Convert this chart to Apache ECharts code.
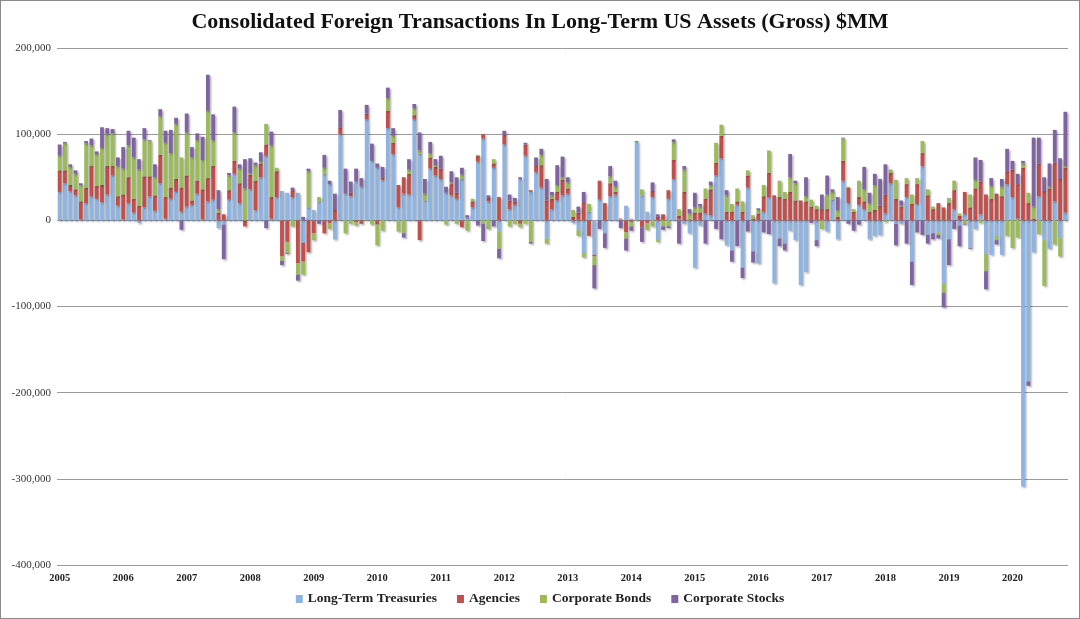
<!DOCTYPE html>
<html>
<head>
<meta charset="utf-8">
<script src="https://cdn.jsdelivr.net/npm/echarts@6/dist/echarts.min.js"></script>
<style>
html,body{margin:0;padding:0;background:#fff;}
#frame{position:absolute;left:0;top:0;width:1080px;height:619px;box-sizing:border-box;border:1px solid #8a8a8a;}
#chart{position:absolute;left:0;top:0;width:1080px;height:619px;}
</style>
</head>
<body>
<div id="frame"></div>
<div id="chart"></div>
<script>
// Monthly data, Jan 2005 - Nov 2020 ($MM)
const years = ['2005','2006','2007','2008','2009','2010','2011','2012','2013','2014','2015','2016','2017','2018','2019','2020'];
const monthNames = ['Jan','Feb','Mar','Apr','May','Jun','Jul','Aug','Sep','Oct','Nov','Dec'];
const seriesNames = ['Long-Term Treasuries','Agencies','Corporate Bonds','Corporate Stocks'];
const yTicks = {min: -400000, max: 200000, interval: 100000};

const treasuries = [
33000,43000,34000,29000,1000,20000,28000,25000,21000,30000,52000,17000,
1000,20000,9000,-3000,15000,28000,11000,43000,2000,25000,33000,10000,
16000,18000,31000,1000,22000,24000,-9000,-5000,24000,54000,20000,0,
36000,12000,50000,75000,2000,27000,34000,32000,27000,32000,-26000,15000,
12000,22000,54000,42000,-22000,100000,31000,28000,45000,39000,117000,69000,
61000,47000,107000,77000,15000,31000,30000,117000,77000,23000,60000,52000,
48000,32000,29000,25000,48000,3000,15000,68000,95000,22000,61000,-13000,
88000,13000,18000,48000,75000,33000,56000,38000,-21000,13000,23000,29000,
31000,-3000,-11000,-38000,10000,-40000,24000,-15000,28000,30000,1000,17000,
2000,91000,29000,10000,27000,-23000,0,25000,48000,1000,-4000,-15000,
-55000,-6000,8000,6000,52000,72000,-29000,-35000,18000,-55000,38000,-36000,
-50000,10000,27000,-73000,-21000,-27000,-12000,-23000,-75000,-60000,0,-23000,
0,-13000,24000,-22000,46000,20000,0,18000,13000,-22000,-18000,-17000,
8000,43000,-4000,-4000,27000,-48000,19000,63000,-17000,-15000,-14000,-73000,
-22000,13000,-6000,7000,-32000,-10000,7000,-39000,-40000,-18000,-40000,42000,
27000,2000,-309000,-187000,-37000,28000,-23000,-33000,22000,-20000,9000
];
const agencies = [
25000,15000,7000,7000,21000,18000,35000,15000,20000,33000,11000,11000,
29000,30000,16000,17000,36000,23000,18000,33000,25000,13000,15000,28000,
36000,5000,15000,35000,27000,39000,9000,7000,11000,15000,23000,-7000,
17000,34000,16000,13000,25000,30000,-42000,-25000,8000,-50000,-22000,-37000,
-15000,0,-15000,-3000,12000,8000,0,4000,-2000,-4000,7000,0,
-5000,3000,20000,13000,26000,19000,24000,5000,-23000,0,13000,10000,
12000,0,13000,7000,-8000,0,7000,7000,5000,4000,5000,27000,
11000,10000,4000,-4000,13000,2000,8000,26000,23000,12000,10000,18000,
6000,4000,9000,21000,-18000,-2000,22000,20000,15000,3000,1000,-14000,
-2000,1000,-8000,-3000,7000,4000,7000,10000,22000,4000,33000,1000,
9000,9000,17000,30000,15000,26000,10000,10000,4000,10000,14000,2000,
8000,18000,28000,29000,27000,25000,33000,23000,23000,22000,16000,13000,
13000,13000,0,4000,23000,18000,10000,9000,9000,10000,12000,17000,
22000,12000,25000,16000,15000,19000,23000,15000,29000,13000,20000,15000,
20000,22000,5000,26000,15000,37000,38000,30000,25000,31000,28000,15000,
32000,40000,61000,20000,2000,38000,34000,37000,45000,48000,52000
];
const corpBonds = [
17000,31000,21000,18000,19000,51000,24000,37000,43000,37000,38000,35000,
30000,37000,48000,42000,43000,41000,21000,45000,63000,40000,64000,35000,
50000,50000,47000,34000,78000,30000,4000,0,17000,33000,17000,37000,
2000,18000,2000,24000,60000,4000,-5000,-13000,-7000,-13000,-15000,42000,
-8000,5000,7000,-7000,0,0,-15000,-4000,-4000,0,0,-5000,
-24000,-12000,15000,8000,-13000,-15000,5000,8000,4000,8000,5000,2000,
0,-5000,2000,-4000,5000,-12000,3000,1000,-4000,-10000,5000,-20000,
0,-7000,-4000,-4000,-4000,-25000,0,12000,-6000,4000,8000,3000,
7000,8000,-7000,-5000,9000,-10000,0,0,8000,6000,0,-7000,
-5000,0,7000,-8000,-7000,-2000,-7000,-7000,21000,8000,26000,7000,
6000,7000,12000,5000,23000,13000,19000,9000,15000,12000,6000,4000,
4000,13000,26000,0,19000,8000,17000,20000,0,6000,8000,4000,
-10000,17000,9000,8000,26000,1000,3000,19000,14000,10000,29000,0,
-2000,4000,22000,1000,7000,11000,7000,14000,7000,3000,-3000,-11000,
6000,11000,3000,-4000,15000,10000,-3000,-20000,15000,-5000,11000,-18000,
-32000,-20000,5000,12000,14000,-16000,-53000,2000,-28000,-22000,2000
];
const corpStocks = [
13000,2000,3000,4000,2000,3000,8000,3000,24000,7000,5000,10000,
25000,17000,23000,12000,13000,1000,15000,8000,14000,27000,7000,-11000,
22000,12000,8000,27000,42000,30000,22000,-40000,3000,30000,5000,34000,
17000,3000,11000,-9000,16000,0,-5000,-1000,3000,-7000,4000,3000,
0,-4000,15000,4000,19000,20000,29000,13000,15000,10000,10000,20000,
5000,12000,12000,9000,0,-5000,12000,5000,21000,17000,13000,7000,
15000,7000,13000,18000,8000,3000,0,-6000,-20000,3000,-7000,-11000,
5000,7000,4000,2000,2000,-2000,9000,7000,25000,4000,23000,24000,
6000,0,7000,12000,0,-27000,-10000,-17000,12000,7000,-9000,-14000,
-5000,0,-17000,0,10000,3000,-4000,-2000,3000,-27000,4000,5000,
17000,3000,-27000,4000,-10000,-22000,6000,-13000,-30000,-12000,-13000,-13000,
2000,-14000,-16000,0,-9000,-8000,27000,3000,0,22000,-3000,-7000,
17000,22000,3000,15000,1000,-4000,-12000,-5000,26000,12000,13000,31000,
35000,0,-25000,6000,-27000,-27000,-14000,-17000,-10000,-7000,-4000,-17000,
-30000,-10000,-24000,-1000,-1000,26000,25000,-21000,9000,-5000,9000,26000,
10000,12000,3000,-5000,80000,30000,16000,27000,38000,24000,63000
];
const colors = ['#8eb4e3','#c0504d','#9bbb59','#8064a2'];

const categories = [];
years.forEach(y => monthNames.forEach(m => categories.push(m + ' ' + y)));
categories.length = treasuries.length;

const fmt = v => {
  const s = Math.abs(v).toString().replace(/\B(?=(\d{3})+(?!\d))/g, ',');
  return (v < 0 ? '-' : '') + s;
};

const serif = '"Liberation Serif", "DejaVu Serif", serif';
const dataSets = [treasuries, agencies, corpBonds, corpStocks];

const chart = echarts.init(document.getElementById('chart'), null, {renderer: 'canvas'});
chart.setOption({
  animation: false,
  title: {
    text: 'Consolidated Foreign Transactions In Long-Term US Assets (Gross) $MM',
    left: 'center', top: 6,
    textStyle: {fontFamily: serif, fontWeight: 'bold', fontSize: 22, color: '#111'}
  },
  legend: {
    bottom: 8, left: 'center',
    icon: 'rect', itemWidth: 7, itemHeight: 8, itemGap: 20,
    textStyle: {fontFamily: serif, fontWeight: 'bold', fontSize: 13.5, color: '#222'},
    data: seriesNames
  },
  grid: {left: 57, right: 12, top: 48, bottom: 54},
  xAxis: {
    type: 'category',
    data: categories,
    boundaryGap: true,
    axisLine: {show: false},
    axisTick: {show: false},
    axisLabel: {
      interval: (i) => i % 12 === 0,
      formatter: (v) => v.split(' ')[1],
      fontFamily: serif, fontSize: 10.5, fontWeight: 'bold', color: '#222', margin: 8
    },
    splitLine: {show: false}
  },
  yAxis: {
    type: 'value',
    min: yTicks.min, max: yTicks.max, interval: yTicks.interval,
    axisLine: {show: false},
    axisTick: {show: false},
    axisLabel: {formatter: fmt, fontFamily: serif, fontSize: 11, color: '#333', margin: 6},
    splitLine: {lineStyle: {color: '#9a9a9a', width: 1}}
  },
  series: seriesNames.map((name, k) => ({
    name: name,
    type: 'bar',
    stack: 'total',
    data: dataSets[k],
    barCategoryGap: '28%',
    itemStyle: {
      color: colors[k],
      shadowColor: 'rgba(0,0,0,0.3)', shadowBlur: 2, shadowOffsetX: 1.5, shadowOffsetY: 1.5
    }
  }))
});
</script>
</body>
</html>
